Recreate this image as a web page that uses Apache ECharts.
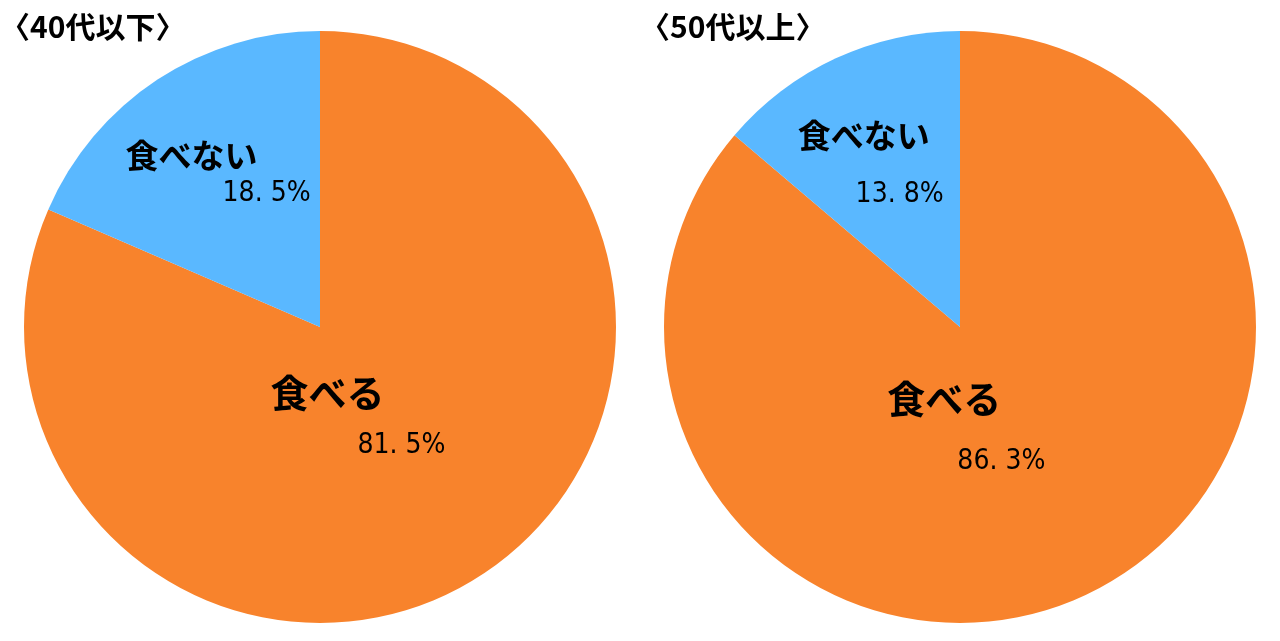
<!DOCTYPE html>
<html><head><meta charset="utf-8">
<script src="https://cdn.jsdelivr.net/npm/echarts@6/dist/echarts.min.js"></script>
<style>html,body{margin:0;padding:0;background:#fff}#c{width:1280px;height:641px}</style>
</head><body><div id="c"></div>
<script>
const categories = ['食べる', '食べない'];
const groupTitles = ['〈40代以下〉', '〈50代以上〉'];
const valuesUnder40 = [81.5, 18.5];
const valuesOver50 = [86.3, 13.8];
const colors = ['#F8832C', '#5AB8FF'];

const JP = '"Noto Sans CJK JP"';
const NUM = '"DejaVu Sans Condensed", "DejaVu Sans", sans-serif';

// label tuning per pie: [block width, dx, dy, name lineHeight] for each category
const labelTune = [
  [[175, -45, -46, 78], [185, -19, -30, 46]],
  [[158, -57, -50, 96], [146, -26, -39, 88]]
];
const nameSize = [38, 33];

function makeSeries(values, idx, cx) {
  const t = labelTune[idx];
  return {
    type: 'pie',
    center: [cx, 327],
    radius: [0, 296],
    startAngle: 90,
    clockwise: true,
    silent: true,
    animation: false,
    label: {
      show: true,
      position: 'inside',
      formatter: p => '{n' + p.dataIndex + '|' + p.name + '}\n{v|' + p.value.toFixed(1).replace('.', '. ') + '%}',
      rich: {
        n0: { fontFamily: JP, fontWeight: 'bold', fontSize: nameSize[0], color: '#000', align: 'left', lineHeight: t[0][3] },
        n1: { fontFamily: JP, fontWeight: 'bold', fontSize: nameSize[1], color: '#000', align: 'left', lineHeight: t[1][3] },
        v: { fontFamily: NUM, fontSize: 28, color: '#000', align: 'right', lineHeight: 30 }
      }
    },
    labelLine: { show: false },
    labelLayout: p => ({ dx: t[p.dataIndex][1], dy: t[p.dataIndex][2] }),
    data: categories.map((c, i) => ({
      name: c,
      value: values[i],
      itemStyle: { color: colors[i] },
      label: { width: t[i][0] }
    }))
  };
}

const chart = echarts.init(document.getElementById('c'), null, { renderer: 'canvas' });
const titleStyle = { fontFamily: JP, fontWeight: 'bold', fontSize: 30, color: '#000' };
chart.setOption({
  backgroundColor: '#fff',
  title: [
    { text: groupTitles[0], left: -5, top: 7, textStyle: titleStyle },
    { text: groupTitles[1], left: 635, top: 7, textStyle: titleStyle }
  ],
  series: [
    makeSeries(valuesUnder40, 0, 320),
    makeSeries(valuesOver50, 1, 960)
  ]
});
</script></body></html>
